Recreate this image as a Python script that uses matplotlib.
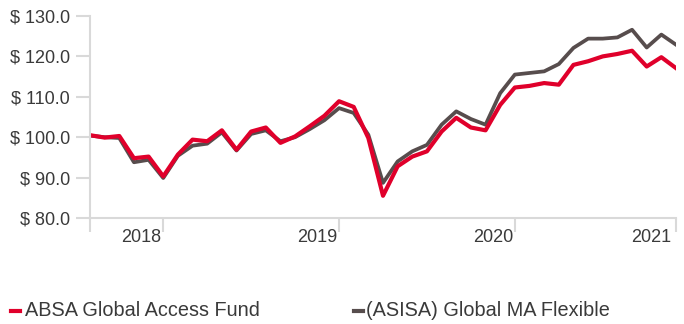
import matplotlib.pyplot as plt
import pandas as pd
from matplotlib.lines import Line2D
from matplotlib.ticker import FuncFormatter
import matplotlib.transforms as mtransforms

plt.rcParams['font.family'] = ['Liberation Sans', 'DejaVu Sans']

# monthly growth of 100 from Aug 2017 to Dec 2020
months = pd.date_range('2017-08-01', periods=41, freq='MS')
absa = [100.5, 99.9, 100.3, 94.8, 95.2, 90.3, 95.7, 99.4, 99.0, 101.7,
        96.9, 101.4, 102.4, 98.6, 100.2, 102.7, 105.3, 108.9, 107.5, 99.8,
        85.5, 92.8, 95.2, 96.5, 101.4, 104.8, 102.4, 101.7, 108.0, 112.3,
        112.7, 113.4, 113.0, 117.9, 118.8, 120.0, 120.6, 121.4, 117.5, 119.8,
        117.1]
asisa = [100.4, 100.0, 99.8, 93.8, 94.4, 89.9, 95.4, 97.9, 98.4, 101.2,
         96.7, 100.8, 101.7, 99.0, 100.0, 102.0, 104.2, 107.2, 106.0, 100.6,
         88.7, 94.0, 96.5, 98.1, 103.1, 106.4, 104.5, 103.1, 110.9, 115.5,
         115.9, 116.3, 118.1, 122.1, 124.4, 124.4, 124.7, 126.6, 122.2, 125.4,
         122.9]
year_labels = ['2018', '2019', '2020', '2021']
year_label_pos = [3.5, 15.5, 27.5, 38.3]

red = '#e0002b'
grey = '#574d4d'
txt = '#3a3a3a'
axis_col = '#d9d9d9'

fig = plt.figure(figsize=(6.84, 3.24), dpi=100)
ax = fig.add_axes([90 / 684, 106 / 324, 586 / 684, 202 / 324])

x = list(range(len(months)))
ax.plot(x, asisa, color=grey, lw=2.7)
ax.plot(x, absa, color=red, lw=3.0)

ax.set_xlim(0, len(months) - 1)
ax.set_ylim(80, 130)
ax.set_yticks(range(80, 131, 10))
ax.yaxis.set_major_formatter(FuncFormatter(lambda v, p: '$ {:.1f}'.format(v)))

for s in ['top', 'right']:
    ax.spines[s].set_visible(False)
for s in ['left', 'bottom']:
    ax.spines[s].set_color(axis_col)
    ax.spines[s].set_linewidth(1.5)

# ticks at the start, every January and the end
xticks = [0] + [i for i, m in enumerate(months) if m.month == 1] + [len(months) - 1]
ax.set_xticks(xticks)
ax.set_xticklabels([])
ax.tick_params(axis='x', length=10, width=1.5, color=axis_col)
ax.tick_params(axis='y', length=10, width=1.5, color=axis_col, pad=4.3,
               labelsize=13, labelcolor=txt)

trans = mtransforms.blended_transform_factory(ax.transData, ax.transAxes)
for pos, lab in zip(year_label_pos, year_labels):
    ax.text(pos, -0.099, lab, transform=trans, ha='center', va='center',
            fontsize=13, color=txt)

# legend
ly = 1 - 311 / 324
fig.add_artist(Line2D([11 / 684, 20 / 684], [ly, ly], color=red, lw=3))
fig.text(25 / 684, ly, 'ABSA Global Access Fund', va='center', fontsize=14.3, color=txt)
fig.add_artist(Line2D([354 / 684, 363 / 684], [ly, ly], color=grey, lw=3))
fig.text(366 / 684, ly, '(ASISA) Global MA Flexible', va='center', fontsize=14.3, color=txt)

fig.savefig('out.png', dpi=100)
